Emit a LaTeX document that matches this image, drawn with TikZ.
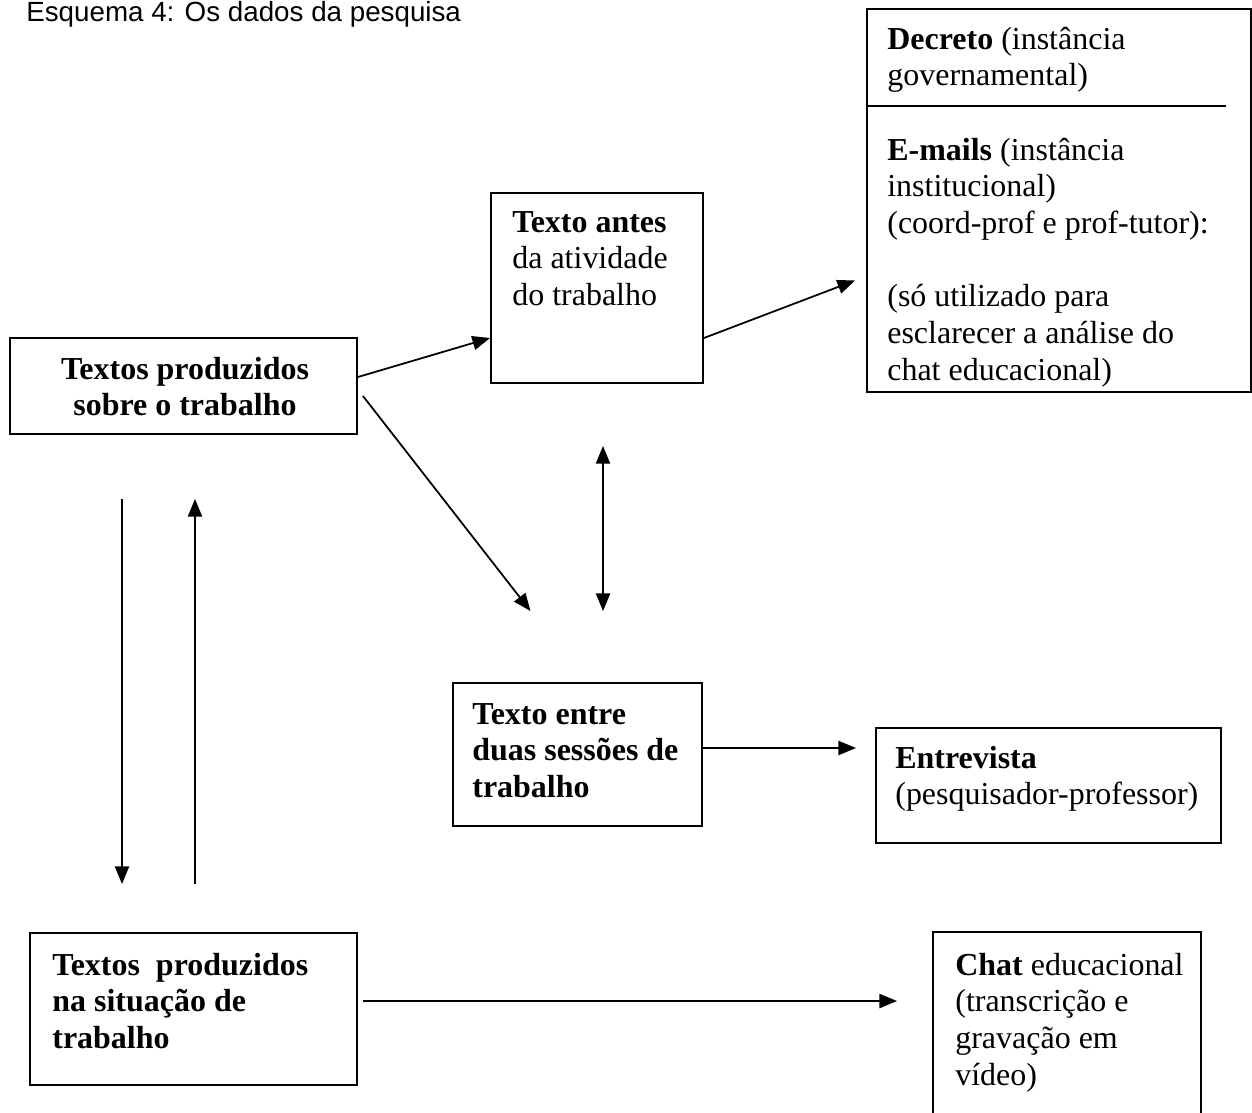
\documentclass[tikz,border=0pt]{standalone}
\usepackage{fontspec}
\setmainfont{Liberation Serif}
\newfontfamily\titlefont{Liberation Sans}
\usetikzlibrary{arrows.meta,calc,fit}
\newcommand\txtlines[1]{\begin{tabular}[t]{@{}l@{}}#1\end{tabular}}
\newcommand\txtcenter[1]{\begin{tabular}[t]{@{}c@{}}#1\end{tabular}}
\begin{document}
\begin{tikzpicture}[x=0.02cm, y=-0.02cm,
  boxframe/.style={draw, line width=1.1pt, inner sep=0pt},
  txt/.style={anchor=base west, inner sep=0pt, font=\fontsize{18.2}{20.9}\selectfont},
  txtc/.style={anchor=base, inner sep=0pt, font=\fontsize{18.2}{20.9}\selectfont},
  conn/.style={line width=1pt, -{Triangle[length=10pt,width=8pt]}},
  conntwo/.style={line width=1pt, {Triangle[length=10pt,width=8pt]}-{Triangle[length=10pt,width=8pt]}}
]
\clip (0,0) rectangle (1252,1113);
\fill[white] (0,0) rectangle (1252,1113);

% title
\node[anchor=base west, inner sep=0pt, font=\titlefont\fontsize{15.8}{19}\selectfont] (title) at (26,21) {Esquema 4: Os dados da pesquisa};

% boxes
\node[boxframe, fit={(10,338) (357,434)}] (A) {};
\node[boxframe, fit={(491,193) (703,383)}] (B) {};
\node[boxframe, fit={(867,9) (1251,392)}] (C) {};
\node[boxframe, fit={(453,683) (702,826)}] (D) {};
\node[boxframe, fit={(876,728) (1221,843)}] (F) {};
\node[boxframe, fit={(30,933) (357,1085)}] (E) {};
\node[boxframe, fit={(933,932) (1201,1140)}] (G) {};

\draw[line width=1.1pt] (C.north west) ++(0,98) coordinate (sepL) -- ++(360,0) coordinate (sepR);

% texts
\node[txtc] (At) at (185,379) {\txtcenter{\textbf{Textos produzidos}\\ \textbf{sobre o trabalho}}};
\node[txt] (Bt) at (512,232) {\txtlines{\textbf{Texto antes}\\ da atividade\\ do trabalho}};
\node[txt] (Ct1) at (887,49) {\txtlines{\textbf{Decreto} (instância\\ governamental)}};
\node[txt] (Ct2) at (887,160) {\txtlines{\textbf{E-mails} (instância\\ institucional)\\ (coord-prof e prof-tutor):\\ \\ (só utilizado para\\ esclarecer a análise do\\ chat educacional)}};
\node[txt] (Dt) at (472,724) {\txtlines{\textbf{Texto entre}\\ \textbf{duas sessões de}\\ \textbf{trabalho}}};
\node[txt] (Ft) at (895,768) {\txtlines{\textbf{Entrevista}\\ (pesquisador-professor)}};
\node[txt] (Et) at (52,975) {\txtlines{\textbf{Textos~ produzidos}\\ \textbf{na situação de}\\ \textbf{trabalho}}};
\node[txt] (Gt) at (955,975) {\txtlines{\textbf{Chat} educacional\\ (transcrição e\\ gravação em\\ vídeo)}};

% connectors
\draw[conn] ($(A.east)+(0,-9)$) -- ($(B.west)+(0,50)$);
\draw[conn] ($(B.east)+(0,50)$) -- ($(C.west)+(-11,80)$);
\draw[conn] ($(A.east)+(5,10)$) -- ($(D.north)+(-47,-71)$);
\draw[conntwo] ($(B.south)+(6,62)$) -- ($(D.north)+(25.5,-71)$);
\draw[conn] ($(A.south)+(-61.5,64)$) -- ($(E.north)+(-71.5,-48)$);
\draw[conn] ($(E.north)+(1.5,-48)$) -- ($(A.south)+(11.5,64)$);
\draw[conn] ($(D.east)+(0,-6.5)$) -- ($(F.west)+(-19,-37.5)$);
\draw[conn] ($(E.east)+(5,-8)$) -- ($(G.west)+(-35,-35)$);
\end{tikzpicture}
\end{document}
